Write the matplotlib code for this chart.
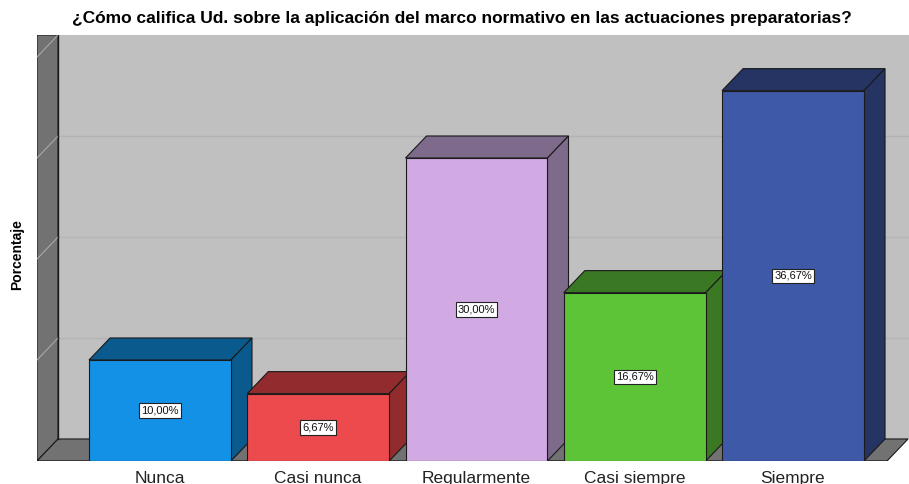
import matplotlib.pyplot as plt
from matplotlib.patches import Polygon, Rectangle

plt.rcParams['font.family'] = ['Liberation Sans', 'DejaVu Sans']

categories = ["Nunca", "Casi nunca", "Regularmente", "Casi siempre", "Siempre"]
values = [10.00, 6.67, 30.00, 16.67, 36.67]
front_colors = ["#1391E6", "#EC4A4C", "#D1A9E3", "#5DC438", "#3E59A8"]
dark_colors = ["#0B5A8E", "#922B2E", "#7E6A8A", "#3A7824", "#253463"]
grid_vals = [10, 20, 30, 40]

# geometry (category units / percent)
bar_w = 0.897
dx, dy = 0.133, 2.18
x0, x1 = -0.777, 4.733
floor_end = 4.594
ytop = 42.18

fig = plt.figure(figsize=(9.09, 4.84), dpi=100)
ax = fig.add_axes([37 / 909, 23 / 484, 872 / 909, 426 / 484])
ax.set_xlim(x0, x1)
ax.set_ylim(0, ytop)
for s in ax.spines.values():
    s.set_visible(False)

# back wall
ax.add_patch(Rectangle((x0 + dx, dy), x1 - x0, ytop, facecolor="#C0C0C0",
                       edgecolor="none", zorder=0))
for g in grid_vals[:-1]:
    ax.plot([x0 + dx, x1], [g + dy, g + dy], color="#B3B3B3", lw=1.0, zorder=1)
# left wall
ax.add_patch(Polygon([(x0, 0), (x0 + dx, dy), (x0 + dx, ytop), (x0, ytop)],
                     closed=True, facecolor="#727272", edgecolor="#1a1a1a",
                     lw=0.8, zorder=1))
for g in grid_vals:
    ax.plot([x0, x0 + dx], [g, g + dy], color="#A8A8A8", lw=0.8, zorder=2)
ax.plot([x0 + dx, x0 + dx], [dy, ytop], color="#1a1a1a", lw=1.0, zorder=2)
# floor
ax.add_patch(Polygon([(x0, 0), (floor_end, 0), (floor_end + dx, dy), (x0 + dx, dy)],
                     closed=True, facecolor="#727272", edgecolor="#1a1a1a",
                     lw=0.8, zorder=1))

for i, (v, fc, dc) in enumerate(zip(values, front_colors, dark_colors)):
    l = i - bar_w / 2
    r = i + bar_w / 2
    z = 3 + i
    ax.add_patch(Polygon([(l, v), (l + dx, v + dy), (r + dx, v + dy), (r, v)],
                         closed=True, facecolor=dc, edgecolor="#1a1a1a", lw=0.8, zorder=z))
    ax.add_patch(Polygon([(r, 0), (r + dx, dy), (r + dx, v + dy), (r, v)],
                         closed=True, facecolor=dc, edgecolor="#1a1a1a", lw=0.8, zorder=z))
    ax.add_patch(Rectangle((l, 0), bar_w, v, facecolor=fc, edgecolor="#1a1a1a",
                           lw=0.8, zorder=z))
    ax.text(i, v / 2, f"{v:.2f}%".replace(".", ","), ha="center", va="center",
            fontsize=8, color="#111111", zorder=20,
            bbox=dict(boxstyle="square,pad=0.2", facecolor="white",
                      edgecolor="#222222", lw=0.8))

ax.plot([x0, floor_end], [0, 0], color="#1a1a1a", lw=1.0, zorder=2)

ax.set_xticks(range(len(categories)))
ax.set_xticklabels(categories, fontsize=12.5, color="#222222")
ax.tick_params(axis="x", length=0, pad=7)
ax.set_yticks([])

fig.text(17 / 909, 1 - 255 / 484, "Porcentaje", rotation=90, ha="center",
         va="center", fontsize=10, fontweight="bold")
fig.text(462 / 909, 1 - 19 / 484,
         "¿Cómo califica Ud. sobre la aplicación del marco normativo en las actuaciones preparatorias?",
         ha="center", va="center", fontsize=12.5, fontweight="bold")

fig.savefig("out.png", dpi=100)
